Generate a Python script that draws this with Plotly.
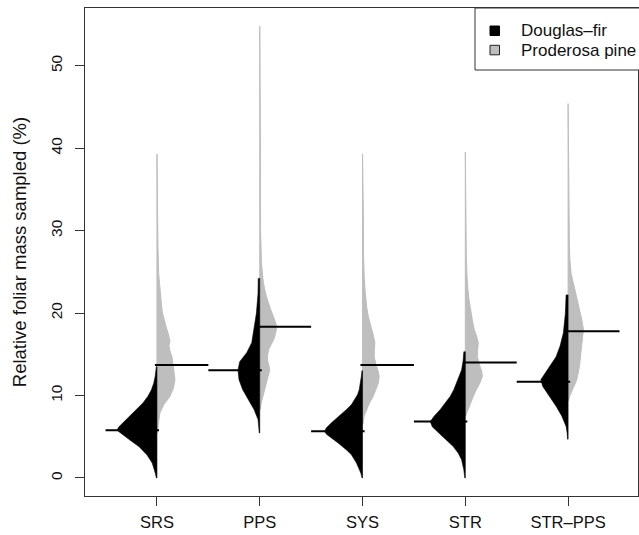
import plotly.graph_objects as go

# ---------------- data ----------------
categories = ["SRS", "PPS", "SYS", "STR", "STR–PPS"]
legend_labels = ["Douglas–fir", "Proderosa pine"]
y_ticks = [0, 10, 20, 30, 40, 50]

# Douglas-fir (left half) density profiles: levels and relative density
srs_df_y = [0, 0.6, 1.8, 2.8, 3.8, 4.5, 5.0, 5.4, 5.8, 6.2, 6.7, 7.3, 7.9, 8.5, 9.1, 9.9, 10.7, 11.5, 12.3, 13.5]
srs_df_d = [0.5, 1.7, 4.7, 10, 18, 26, 31, 36, 40, 38, 34, 29, 24, 19, 14, 9, 5.5, 3.2, 1.8, 0.6]
pps_df_y = [5.45, 6.2, 7.1, 8.3, 9.5, 10.7, 11.9, 13.1, 14.1, 14.6, 15.2, 16.4, 18.0, 20.0, 22.4, 24.2]
pps_df_d = [0.5, 1.0, 1.7, 5.7, 11.7, 17, 20.7, 21.7, 20, 17, 13, 8, 5.7, 3.3, 1.7, 1.5]
sys_df_y = [0, 0.6, 1.8, 2.8, 3.4, 4.2, 4.8, 5.3, 5.65, 6.1, 6.7, 7.4, 8.3, 8.9, 9.5, 10.1, 10.7, 11.5, 12.3, 13.0]
sys_df_d = [0.5, 1.7, 6, 11, 16, 24, 31, 36, 38, 36, 31, 24, 16, 11, 7.7, 5, 3.3, 2, 1.2, 0.6]
str_df_y = [0, 1.0, 2.2, 3.0, 3.8, 4.6, 5.45, 6.2, 6.85, 7.5, 8.3, 9.1, 9.9, 10.7, 11.5, 12.3, 13.1, 14.2, 15.3]
str_df_d = [0.5, 1.5, 3.7, 7, 12, 19, 27, 33, 35, 31, 25, 20, 15, 11.5, 8.7, 6, 3.7, 2.2, 1.5]
strpps_df_y = [4.7, 5.5, 6.25, 7.5, 8.7, 9.9, 11.1, 11.9, 12.7, 13.5, 14.7, 16.0, 17.6, 20.0, 22.2]
strpps_df_d = [0.5, 1.0, 2.0, 6.3, 12, 18.7, 25.3, 27.3, 23, 18, 12, 8, 4.7, 2.7, 2.0]

# Ponderosa pine (right half) density profiles
srs_pp_y = [5.5, 6.7, 7.9, 8.9, 9.9, 10.9, 11.9, 12.9, 13.8, 14.7, 15.4, 16.0, 16.6, 17.2, 17.6, 18.4, 19.2, 20.0, 20.8, 21.8, 22.8, 24.8, 28.1, 32, 36, 39.3]
srs_pp_d = [0.5, 1.5, 3, 7, 13, 16.5, 18, 17, 16, 15, 13, 12, 13, 12, 11, 9, 7, 5.5, 4.7, 3.8, 3, 1.7, 1, 0.8, 0.7, 0.5]
pps_pp_y = [8.3, 9.1, 9.9, 10.9, 11.9, 12.5, 13.1, 13.7, 14.3, 15.0, 15.6, 16.2, 16.8, 17.4, 18.0, 18.6, 19.2, 19.8, 20.4, 21.2, 22.0, 23.0, 24.0, 26.1, 30.1, 40, 50, 54.8]
pps_pp_d = [0.5, 1.5, 3.3, 5.5, 7.7, 9, 10, 9, 7.7, 8, 9, 11.5, 14, 15.5, 16.7, 16.5, 15, 13, 11, 8.7, 6.7, 4.7, 3.3, 1.7, 0.8, 0.7, 0.6, 0.5]
sys_pp_y = [6.5, 7.5, 8.3, 9.1, 9.9, 10.7, 11.5, 12.3, 13.0, 13.7, 14.7, 15.5, 16.4, 17.2, 18.0, 18.8, 19.6, 20.6, 21.6, 22.8, 24.4, 27, 32, 39.3]
sys_pp_d = [0.5, 1.5, 4, 7, 10.7, 13.5, 15.7, 16.7, 15.5, 13.5, 11.7, 11.8, 12.3, 11, 9, 7.3, 5.7, 4.3, 3.3, 2.5, 1.7, 1, 0.8, 0.5]
str_pp_y = [7.5, 7.9, 8.5, 9.1, 9.9, 10.7, 11.5, 12.3, 12.9, 13.5, 14.1, 14.7, 15.5, 16.4, 17.2, 18.0, 18.8, 19.6, 20.6, 21.6, 23.0, 24.4, 27, 33, 39.5]
str_pp_d = [0.5, 1.5, 3.5, 4.7, 8, 11, 14.5, 17, 16.5, 14.7, 13, 12, 12.3, 13, 11.3, 9, 7.5, 6.3, 5, 3.7, 2.5, 1.7, 1, 0.8, 0.5]
strpps_pp_y = [9.4, 9.9, 10.7, 11.9, 13.5, 15.2, 16.8, 18.0, 19.2, 20.8, 22.8, 24.8, 26.5, 28.1, 32, 38, 45.4]
strpps_pp_d = [0.5, 1.5, 4.7, 8.7, 11.3, 13, 14.7, 15.3, 13.7, 10.7, 6.3, 3, 1.8, 1.3, 1, 0.8, 0.5]

# bean lines (Douglas-fir left, Ponderosa pine right)
df_line = [5.77, 13.05, 5.65, 6.85, 11.67]
pp_line = [13.7, 18.35, 13.7, 14.0, 17.8]

# ---------------- styling ----------------
DF_COLOR = "#000000"
PP_COLOR = "#bebebe"
DENS_SCALE = 1 / 102.75   # relative density -> x units
LINE_HALF = 0.5
FONT = "Liberation Sans, Arial, Helvetica, sans-serif"
AXIS_COLOR = "#333333"

df_profiles = [(srs_df_y, srs_df_d), (pps_df_y, pps_df_d), (sys_df_y, sys_df_d),
               (str_df_y, str_df_d), (strpps_df_y, strpps_df_d)]
pp_profiles = [(srs_pp_y, srs_pp_d), (pps_pp_y, pps_pp_d), (sys_pp_y, sys_pp_d),
               (str_pp_y, str_pp_d), (strpps_pp_y, strpps_pp_d)]
positions = list(range(1, len(categories) + 1))

fig = go.Figure()


def half_bean(pos, ys, ds, side, color, lw, name):
    xs = [pos + side * d * DENS_SCALE for d in ds]
    x = [pos] + xs + [pos, pos]
    y = [ys[0]] + list(ys) + [ys[-1], ys[0]]
    return go.Scatter(x=x, y=y, mode="lines", fill="toself", fillcolor=color,
                      line=dict(color=color, width=lw), hoverinfo="skip",
                      showlegend=False, name=name)


for pos, cat, (py, pd_), (dy, dd) in zip(positions, categories, pp_profiles, df_profiles):
    fig.add_trace(half_bean(pos, py, pd_, +1, PP_COLOR, 1.0, legend_labels[1] + " " + cat))
    fig.add_trace(half_bean(pos, dy, dd, -1, DF_COLOR, 0.6, legend_labels[0] + " " + cat))

for pos, m in zip(positions, df_line):
    fig.add_trace(go.Scatter(x=[pos + 0.02, pos - LINE_HALF], y=[m, m], mode="lines",
                             line=dict(color="black", width=2), hoverinfo="skip", showlegend=False))
for pos, m in zip(positions, pp_line):
    fig.add_trace(go.Scatter(x=[pos - 0.02, pos + LINE_HALF], y=[m, m], mode="lines",
                             line=dict(color="black", width=2), hoverinfo="skip", showlegend=False))

# ---------------- manual legend (R style) ----------------
W, H = 639, 535
ML, MR, MT, MB = 85, 1, 8, 39
pw, ph = W - ML - MR, H - MT - MB


def px_x(px):
    return (px - ML) / pw


def px_y(py):
    return (H - MB - py) / ph


shapes = [
    dict(type="rect", xref="paper", yref="paper", x0=px_x(475), x1=px_x(680),
         y0=px_y(70), y1=px_y(MT), fillcolor="white", line=dict(color=AXIS_COLOR, width=1), layer="above"),
    dict(type="rect", xref="paper", yref="paper", x0=px_x(490), x1=px_x(499.5),
         y0=px_y(35.5), y1=px_y(26), fillcolor=DF_COLOR, line=dict(color="black", width=1), layer="above"),
    dict(type="rect", xref="paper", yref="paper", x0=px_x(490), x1=px_x(499.5),
         y0=px_y(54.8), y1=px_y(45.3), fillcolor=PP_COLOR, line=dict(color="#222222", width=1), layer="above"),
]
annotations = [
    dict(xref="paper", yref="paper", x=px_x(519), y=px_y(30.7), text=legend_labels[0],
         showarrow=False, xanchor="left", yanchor="middle", font=dict(family=FONT, size=17, color="#111111")),
    dict(xref="paper", yref="paper", x=px_x(519), y=px_y(50), text=legend_labels[1],
         showarrow=False, xanchor="left", yanchor="middle", font=dict(family=FONT, size=17, color="#111111")),
]

fig.update_layout(
    width=W, height=H,
    margin=dict(l=ML, r=MR, t=MT, b=MB),
    paper_bgcolor="white", plot_bgcolor="white",
    font=dict(family=FONT, color="#111111"),
    shapes=shapes, annotations=annotations,
    showlegend=False,
    xaxis=dict(range=[0.3, 5.68], tickvals=positions, ticktext=categories,
               showgrid=False, zeroline=False, showline=True, mirror=True,
               linecolor=AXIS_COLOR, linewidth=1, ticks="outside", ticklen=9,
               tickcolor=AXIS_COLOR, tickfont=dict(size=16.5), automargin=False,
               ticklabelstandoff=2),
    yaxis=dict(range=[-2.19, 57.0], tickvals=y_ticks, tickangle=-90,
               showgrid=False, zeroline=False, showline=True, mirror=True,
               linecolor=AXIS_COLOR, linewidth=1, ticks="outside", ticklen=9,
               tickcolor=AXIS_COLOR, tickfont=dict(size=15.5), automargin=False,
               ticklabelstandoff=7,
               title=dict(text="Relative foliar mass sampled (%)", font=dict(size=18.5), standoff=16)),
)

fig.write_html("out.html", config={"displayModeBar": False},
               post_script="document.body.style.margin='0';")
